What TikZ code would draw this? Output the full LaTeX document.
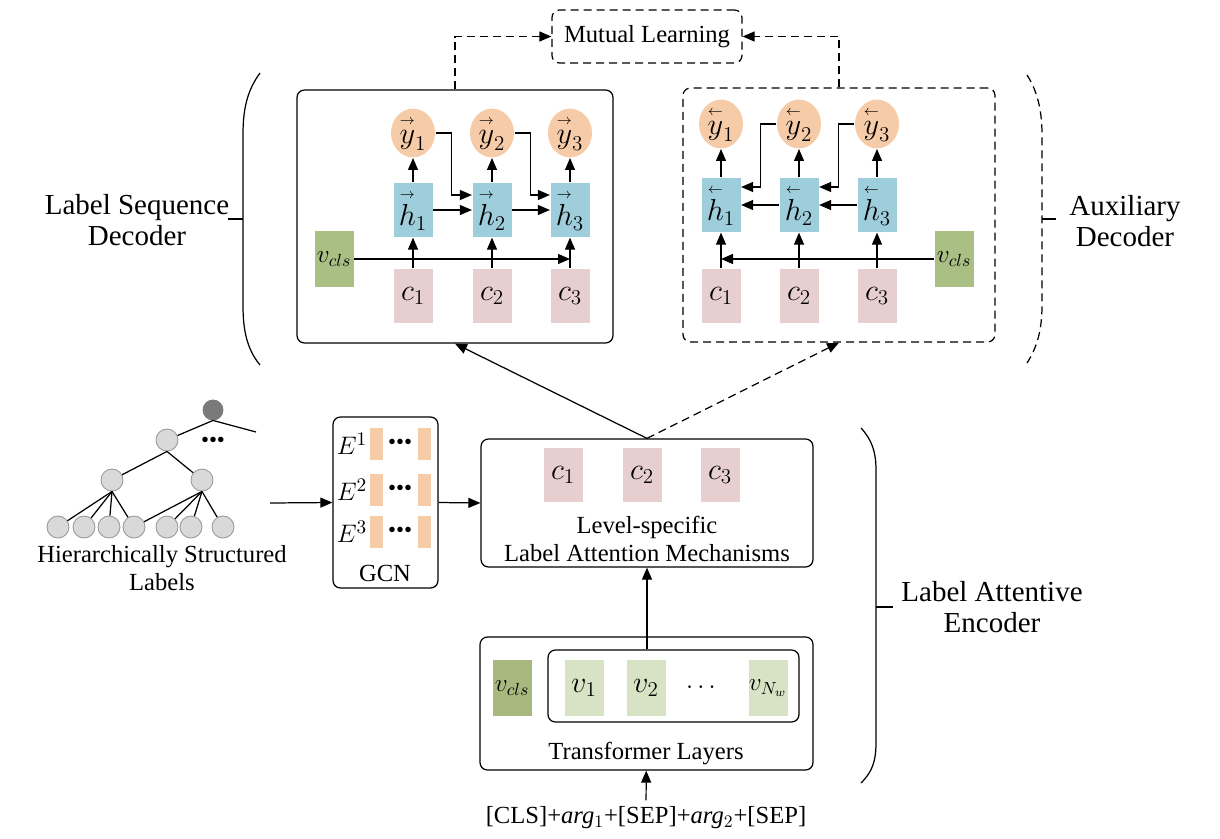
\documentclass[tikz,border=0pt]{standalone}
\usepackage{amsmath}
\usepackage{fontspec}
\setmainfont{Liberation Serif}
\usetikzlibrary{arrows.meta,positioning,shapes.geometric}

\definecolor{peach}{HTML}{F6CBA8}
\definecolor{hblue}{HTML}{9ECDDC}
\definecolor{cpink}{HTML}{E8CFCF}
\definecolor{vgreen}{HTML}{AABF84}
\definecolor{tgreen}{HTML}{A8B97F}
\definecolor{lgreen}{HTML}{D8E3C5}
\definecolor{rootgray}{HTML}{7A7A7A}
\definecolor{leafgray}{HTML}{D9D9D9}

\newcommand{\fwdvec}[1]{\overset{\scriptscriptstyle\rightarrow}{#1}}
\newcommand{\backvec}[1]{\overset{\scriptscriptstyle\leftarrow}{#1}}

\begin{document}
\begin{tikzpicture}[x=0.2mm,y=-0.2mm,line width=0.7pt,
  >={Triangle[length=2.4mm,width=2mm]},
  font=\fontsize{14}{16}\selectfont,
  box/.style={draw,rounded corners=1.5mm,inner sep=0pt},
  dline/.style={dash pattern=on 1.6mm off 1mm},
  dbox/.style={box,dline},
  cell/.style={minimum width=7.8mm,minimum height=10.8mm,inner sep=0pt,font=\fontsize{17}{17}\selectfont},
  hcell/.style={cell,fill=hblue},
  ccell/.style={cell,fill=cpink},
  vcell/.style={cell,minimum height=11.2mm,fill=vgreen,font=\fontsize{14.5}{14.5}\selectfont},
  ycirc/.style={ellipse,fill=peach,minimum width=8.8mm,minimum height=8.2mm,inner sep=0pt,font=\fontsize{17}{17}\selectfont},
  leaf/.style={circle,draw=gray!80,fill=leafgray,minimum size=4.4mm,inner sep=0pt,line width=0.5pt},
  gbar/.style={fill=peach,minimum width=2.6mm,minimum height=6.4mm,inner sep=0pt},
  elli/.style={font=\fontsize{13}{13}\selectfont,inner sep=0pt},
  side/.style={align=center,font=\fontsize{16.5}{18}\selectfont}]

  \useasboundingbox (0,0) rectangle (1220,838);

  % Decoders
  \node[box,minimum width=63.2mm,minimum height=50.6mm] (ldec) at (455,216.5) {};
  \node[dbox,minimum width=62.4mm,minimum height=50.8mm] (rdec) at (839,215) {};
  \node[dbox,minimum width=38mm,minimum height=10.6mm] (ml) at (647,36.5) {Mutual Learning};
  \draw[->,dline] (ldec.north) |- (ml.west);
  \draw[->,dline] (rdec.north) |- (ml.east);

  % left decoder
  \foreach \i/\x in {1/413,2/492,3/570} {
    \node[ycirc] (ly\i) at (\x,133) {$\fwdvec{y}_{\i}$};
    \node[hcell] (lh\i) at (\x,210) {$\fwdvec{h}_{\i}$};
    \node[ccell] (lc\i) at (\x,296) {$c_{\i}$};
    \draw[->] (lc\i) -- (lh\i);
    \draw[->] (lh\i) -- (ly\i);
  }
  \node[vcell] (lv) at (334,259) {$v_{cls}$};
  \draw[->] (lh1) -- (lh2);
  \draw[->] (lh2) -- (lh3);
  \draw[->] (ly1.east) -- ++(16,0) |- ([yshift=3mm]lh2.west);
  \draw[->] (ly2.east) -- ++(16,0) |- ([yshift=3mm]lh3.west);
  \draw[->] (lv.east) -- (lv.east -| lc3);

  % right decoder
  \foreach \i/\x in {1/721,2/799,3/877} {
    \node[ycirc] (ry\i) at (\x,124) {$\backvec{y}_{\i}$};
    \node[hcell] (rh\i) at (\x,205) {$\backvec{h}_{\i}$};
    \node[ccell] (rc\i) at (\x,296) {$c_{\i}$};
    \draw[->] (rc\i) -- (rh\i);
    \draw[->] (rh\i) -- (ry\i);
  }
  \node[vcell] (rv) at (954,259) {$v_{cls}$};
  \draw[->] (rh3) -- (rh2);
  \draw[->] (rh2) -- (rh1);
  \draw[->] (ry2.west) -- ++(-16,0) |- ([yshift=3.6mm]rh1.east);
  \draw[->] (ry3.west) -- ++(-16,0) |- ([yshift=3.6mm]rh2.east);
  \draw[->] (rv.west) -- (rv.west -| rc1);

  % Encoder
  \node[box,minimum width=66.4mm,minimum height=25.6mm] (enc) at (647,503) {};
  \foreach \i/\x in {1/563,2/642,3/720}
    \node[ccell] (ec\i) at (\x,475) {$c_{\i}$};
  \node[align=center] (lam) at (647,539) {Level-specific\\Label Attention Mechanisms};
  \draw[->] (enc.north) -- (ldec.south);
  \draw[->,dline] (enc.north) -- (rdec.south);

  % Transformer
  \node[box,minimum width=66.6mm,minimum height=26.6mm] (trf) at (646.5,703.5) {};
  \node[box,minimum width=50.2mm,minimum height=14.4mm] (tok) at (673.5,686) {};
  \node[vcell,fill=tgreen] (tv) at (512,688) {$v_{cls}$};
  \node[vcell,fill=lgreen,font=\fontsize{17}{17}\selectfont] (tv1) at (584,688) {$v_1$};
  \node[vcell,fill=lgreen,font=\fontsize{17}{17}\selectfont] (tv2) at (646,688) {$v_2$};
  \node (tdots) at (703,688) {$\cdots$};
  \node[vcell,fill=lgreen] (tvn) at (768,688) {$v_{N_w}$};
  \node (tl) at (646,753) {Transformer Layers};
  \node (inp) at (646,818) {[CLS]+\textit{arg}$_1$+[SEP]+\textit{arg}$_2$+[SEP]};
  \draw[->] (inp) -- (trf);
  \draw[->] (enc.south |- tok.north) -- (enc.south);

  % GCN
  \node[box,minimum width=21mm,minimum height=34.2mm] (gcn) at (385.5,502.5) {};
  \foreach \i/\y in {1/444,2/490,3/532} {
    \node[font=\fontsize{15}{15}\selectfont,inner sep=0pt] (e\i) at (352,\y) {$E^{\i}$};
    \node[gbar] (ba\i) at (376.5,\y) {};
    \node[elli] (ed\i) at (400,\y) {•••};
    \node[gbar] (bb\i) at (424,\y) {};
  }
  \node (gcnl) at (385,573) {GCN};
  \draw[->] (gcn.east) -- (enc.west);

  % Tree
  \node[leaf,fill=rootgray,draw=rootgray,minimum size=4mm] (root) at (213,410) {};
  \node[leaf] (n1) at (167,440) {};
  \node[elli] (tdot) at (213,442) {•••};
  \coordinate (rootr) at (256,432);
  \draw (n1) -- (root.south) -- (rootr);
  \node[leaf] (n2a) at (112,480) {};
  \node[leaf] (n2b) at (202,480) {};
  \draw (n2a) -- (n1.south) -- (n2b);
  \foreach \x [count=\i] in {58,84,109,134,167,191,223}
    \node[leaf] (m\i) at (\x,527) {};
  \foreach \i in {1,...,4}
    \draw (n2a.south) -- (m\i);
  \foreach \i in {4,...,7}
    \draw (n2b.south) -- (m\i);
  \node[align=center] (treel) at (162,568) {Hierarchically Structured\\Labels};
  \coordinate (treeout) at (270,503);
  \draw[->] (treeout) -- (gcn.west);

  % Braces
  \draw (260,73) .. controls (246,92) and (243,112) .. (243,135) -- (243,305) .. controls (243,328) and (246,348) .. (260,365);
  \draw (243,219) -- (228,219);
  \node[side] (lsd) at (137,220) {Label Sequence\\Decoder};

  \draw[dline] (1027,75) .. controls (1038,92) and (1042,112) .. (1042,135) -- (1042,305) .. controls (1042,328) and (1038,346) .. (1027,363);
  \draw (1042,219) -- (1056,219);
  \node[side] (aux) at (1125,221) {Auxiliary\\Decoder};

  \draw (861,428) .. controls (872,440) and (876,452) .. (876,470) -- (876,742) .. controls (876,762) and (872,772) .. (861,783);
  \draw (876,607) -- (893,607);
  \node[side] (lae) at (992,607) {Label Attentive\\Encoder};
\end{tikzpicture}
\end{document}
